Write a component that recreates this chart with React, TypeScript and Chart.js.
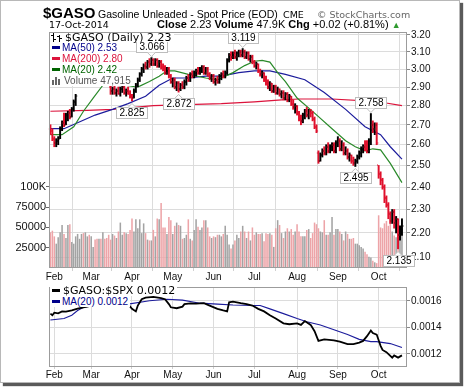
import React, { useEffect, useRef } from "react";
import { Chart, registerables } from "chart.js";
Chart.register(...registerables);

// ---------- DATA ----------
const months = ["Feb", "Mar", "Apr", "May", "Jun", "Jul", "Aug", "Sep", "Oct"];
const monthStart = [2, 21, 42, 63, 84, 105, 127, 148, 169];

const opens = [
  2.68,2.67,2.63,2.61,2.62,2.64,2.68,2.71,2.70,2.75,
  2.76,2.74,2.78,2.82,2.94,2.95,2.98,3.00,2.98,3.02,
  3.04,3.02,3.03,3.05,3.03,3.01,3.02,2.98,3.00,2.96,
  2.95,2.90,2.88,2.89,2.87,2.88,2.86,2.89,2.90,2.87,
  2.88,2.86,2.85,2.84,2.88,2.91,2.94,2.97,3.00,3.02,
  3.01,3.04,3.03,3.05,3.03,3.05,3.02,3.04,3.01,3.00,
  2.98,3.00,2.96,2.93,2.94,2.90,2.92,2.89,2.91,2.90,
  2.93,2.95,2.94,2.97,2.96,2.98,2.99,2.98,3.00,3.01,
  2.98,3.00,2.97,2.95,2.96,2.93,2.94,2.93,2.96,2.97,
  2.96,2.98,3.05,3.08,3.07,3.09,3.07,3.09,3.10,3.08,
  3.10,3.07,3.09,3.06,3.07,3.04,3.02,3.03,2.99,2.97,
  2.98,2.94,2.92,2.90,2.92,2.88,2.90,2.87,2.89,2.86,
  2.87,2.84,2.86,2.83,2.85,2.81,2.79,2.80,2.76,2.73,
  2.72,2.75,2.77,2.75,2.77,2.76,2.73,2.69,2.56,2.52,
  2.55,2.57,2.56,2.59,2.57,2.59,2.60,2.57,2.61,2.62,
  2.58,2.60,2.56,2.57,2.54,2.55,2.52,2.51,2.52,2.54,
  2.56,2.58,2.59,2.58,2.57,2.62,2.70,2.68,2.70,2.50,
  2.46,2.43,2.40,2.35,2.32,2.28,2.25,2.29,2.24,2.26,
  2.19,2.21,
];
const highs = [
  2.70,2.68,2.64,2.63,2.64,2.69,2.72,2.76,2.76,2.77,
  2.78,2.79,2.83,2.86,2.97,2.99,3.01,3.02,3.03,3.05,
  3.06,3.04,3.07,3.08,3.05,3.04,3.03,3.01,3.01,2.98,
  2.97,2.91,2.90,2.91,2.89,2.90,2.90,2.91,2.91,2.89,
  2.90,2.88,2.86,2.89,2.92,2.95,2.98,3.01,3.03,3.04,
  3.05,3.06,3.066,3.06,3.06,3.06,3.05,3.05,3.03,3.02,
  3.01,3.01,2.97,2.95,2.95,2.93,2.93,2.92,2.93,2.94,
  2.96,2.97,2.98,2.99,2.99,3.00,3.01,3.01,3.02,3.02,
  3.01,3.01,2.98,2.97,2.97,2.95,2.96,2.97,2.98,2.99,
  2.99,3.06,3.09,3.10,3.10,3.11,3.10,3.11,3.11,3.119,
  3.11,3.10,3.10,3.08,3.08,3.05,3.04,3.03,3.00,2.99,
  2.98,2.96,2.94,2.93,2.92,2.91,2.91,2.90,2.89,2.88,
  2.88,2.87,2.87,2.86,2.85,2.83,2.81,2.80,2.77,2.75,
  2.76,2.78,2.79,2.78,2.78,2.77,2.74,2.70,2.57,2.56,
  2.58,2.59,2.60,2.61,2.60,2.61,2.61,2.62,2.64,2.63,
  2.62,2.61,2.59,2.58,2.56,2.55,2.54,2.53,2.55,2.57,
  2.59,2.60,2.62,2.62,2.63,2.758,2.72,2.71,2.71,2.50,
  2.47,2.44,2.41,2.36,2.33,2.29,2.30,2.30,2.27,2.26,
  2.23,2.26,
];
const lows = [
  2.65,2.62,2.59,2.59,2.60,2.63,2.67,2.69,2.70,2.72,
  2.73,2.74,2.77,2.80,2.93,2.94,2.96,2.97,2.97,3.00,
  3.01,2.99,3.01,3.02,3.00,2.99,2.97,2.96,2.95,2.94,
  2.93,2.86,2.86,2.86,2.85,2.86,2.85,2.87,2.86,2.85,
  2.86,2.84,2.825,2.84,2.87,2.90,2.93,2.96,2.98,3.00,
  3.00,3.01,3.02,3.02,3.02,3.01,3.01,3.00,2.99,2.97,
  2.97,2.95,2.92,2.90,2.89,2.88,2.872,2.88,2.89,2.89,
  2.91,2.93,2.93,2.95,2.95,2.96,2.97,2.97,2.98,2.97,
  2.97,2.96,2.94,2.93,2.92,2.91,2.92,2.92,2.94,2.95,
  2.95,2.97,3.04,3.05,3.06,3.06,3.05,3.07,3.07,3.07,
  3.06,3.06,3.05,3.04,3.03,3.01,3.00,2.98,2.96,2.95,
  2.93,2.91,2.89,2.88,2.87,2.87,2.86,2.86,2.85,2.84,
  2.83,2.83,2.82,2.82,2.80,2.78,2.76,2.75,2.72,2.70,
  2.71,2.73,2.74,2.73,2.74,2.72,2.68,2.66,2.51,2.52,
  2.54,2.55,2.55,2.56,2.56,2.57,2.56,2.56,2.59,2.57,
  2.57,2.55,2.55,2.53,2.52,2.51,2.50,2.495,2.51,2.53,
  2.54,2.56,2.57,2.56,2.56,2.60,2.66,2.65,2.60,2.44,
  2.41,2.39,2.33,2.31,2.26,2.24,2.24,2.22,2.20,2.135,
  2.17,2.19,
];
const closes = [
  2.67,2.63,2.61,2.62,2.63,2.68,2.71,2.70,2.75,2.76,
  2.74,2.78,2.82,2.85,2.95,2.98,3.00,2.98,3.02,3.04,
  3.02,3.03,3.05,3.03,3.01,3.02,2.98,3.00,2.96,2.95,
  2.94,2.88,2.89,2.87,2.88,2.86,2.89,2.90,2.87,2.88,
  2.86,2.85,2.84,2.88,2.91,2.94,2.97,3.00,3.02,3.01,
  3.04,3.03,3.05,3.03,3.05,3.02,3.04,3.01,3.00,2.98,
  3.00,2.96,2.93,2.94,2.90,2.92,2.89,2.91,2.90,2.93,
  2.95,2.94,2.97,2.96,2.98,2.99,2.98,3.00,3.01,2.98,
  3.00,2.97,2.95,2.96,2.93,2.94,2.93,2.96,2.97,2.96,
  2.98,3.05,3.08,3.07,3.09,3.07,3.09,3.10,3.08,3.10,
  3.07,3.09,3.06,3.07,3.04,3.02,3.03,2.99,2.97,2.98,
  2.94,2.92,2.90,2.92,2.88,2.90,2.87,2.89,2.86,2.87,
  2.84,2.86,2.83,2.85,2.81,2.79,2.80,2.76,2.73,2.72,
  2.75,2.77,2.75,2.77,2.76,2.73,2.69,2.67,2.52,2.55,
  2.57,2.56,2.59,2.57,2.59,2.60,2.57,2.61,2.62,2.58,
  2.60,2.56,2.57,2.54,2.55,2.52,2.51,2.52,2.54,2.56,
  2.58,2.59,2.58,2.57,2.62,2.70,2.68,2.70,2.61,2.46,
  2.43,2.40,2.35,2.32,2.28,2.25,2.29,2.24,2.26,2.19,
  2.21,2.23,
];
const volumes = [
  44000,46000,39000,30000,38000,44000,53000,42000,37000,53000,
  54000,32000,30000,39000,42000,36000,42000,43000,44000,39000,
  41000,39000,26000,35000,36000,36000,36000,44000,36000,37000,
  41000,35000,42000,40000,37000,45000,56000,41000,44000,43000,
  42000,47000,61000,45000,60000,49000,60000,43000,55000,43000,
  35000,34000,34000,47000,39000,61000,60000,80000,50000,50000,
  42000,63000,59000,42000,52000,56000,53000,52000,36000,37000,
  41000,60000,36000,34000,47000,60000,51000,47000,50000,59000,
  59000,50000,39000,37000,39000,38000,41000,41000,39000,42000,
  52000,41000,29000,24000,29000,34000,41000,37000,45000,52000,
  45000,37000,45000,34000,50000,41000,44000,42000,42000,43000,
  33000,43000,42000,43000,41000,26000,49000,59000,53000,43000,
  37000,45000,49000,45000,48000,41000,45000,54000,45000,39000,
  39000,39000,47000,48000,37000,43000,56000,54000,49000,45000,
  44000,59000,41000,41000,44000,63000,41000,48000,48000,45000,
  42000,34000,45000,42000,36000,36000,37000,30000,30000,28000,
  26000,24000,20000,17000,14000,13000,9000,7000,6000,65000,
  50000,49000,55000,58000,52000,62000,45000,40000,38000,55000,
  42000,47915,
];

const ma50Idx = [0,7,14,23,32,40,49,56,63,71,80,88,97,105,113,121,131,141,152,162,170,175,181];
const ma50Val = [2.68,2.68,2.71,2.75,2.78,2.81,2.85,2.91,2.95,2.95,2.96,2.96,2.98,2.99,2.99,2.97,2.94,2.87,2.78,2.69,2.65,2.59,2.53];
const ma200Idx = [0,19,32,53,88,105,119,128,145,162,172,181];
const ma200Val = [2.77,2.775,2.78,2.80,2.81,2.82,2.83,2.835,2.835,2.825,2.815,2.80];
const ma20Idx = [0,6,12,17,22,27,33,39,44,46,51,56,60,64,71,80,86,94,100,105,109,113,117,121,127,136,145,152,157,162,166,170,175,181];
const ma20Val = [2.65,2.65,2.69,2.77,2.84,2.91,2.93,2.91,2.90,2.905,2.93,2.96,2.99,2.99,2.97,2.95,2.94,2.98,3.02,3.045,3.05,3.04,2.98,2.93,2.84,2.76,2.68,2.62,2.59,2.57,2.58,2.575,2.51,2.42];

const ratioIdx = [0,1,2,4,6,8,11,14,20,26,32,37,40,42,44,45,47,49,53,57,59,61,62,65,68,69,72,75,79,82,86,89,91,92,94,98,101,104,107,110,113,116,120,123,127,129,131,134,136,138,141,146,149,153,156,159,161,163,165,166,168,170,171,173,176,177,179,181];
const ratioVal = [0.001503,0.001491,0.00151,0.001505,0.00152,0.001518,0.001527,0.00154,0.00156,0.00157,0.00158,0.00158,0.001575,0.001539,0.00152,0.001564,0.001612,0.001624,0.00163,0.00162,0.001612,0.001575,0.001551,0.001544,0.001556,0.001575,0.00158,0.001578,0.001582,0.001564,0.001539,0.001527,0.00152,0.001588,0.001593,0.001582,0.001575,0.001564,0.001539,0.00152,0.001491,0.001466,0.00143,0.001423,0.00143,0.001418,0.001447,0.001418,0.00137,0.001297,0.001309,0.001302,0.001292,0.001273,0.001273,0.001284,0.001297,0.001333,0.001375,0.001357,0.001345,0.00126,0.001229,0.001212,0.001171,0.001188,0.001171,0.001188];
const ratioMaIdx = [0,7,11,14,17,25,33,40,51,60,68,77,86,94,104,108,113,120,127,132,139,146,153,159,165,168,175,181];
const ratioMaVal = [0.001455,0.001466,0.001491,0.001527,0.001551,0.00157,0.001575,0.001575,0.0016,0.001612,0.001605,0.001582,0.001575,0.001568,0.001564,0.001564,0.001539,0.001503,0.001466,0.001442,0.001418,0.001382,0.001345,0.001309,0.001292,0.001292,0.001277,0.001248];

const priceTicks = [2.1,2.2,2.3,2.4,2.5,2.6,2.7,2.8,2.9,3.0,3.1,3.2];
const volTicks = [25000, 50000, 75000, 100000];
const ratioTicks = [0.0012, 0.0014, 0.0016];
const highMarks = [52, 99, 165];
const lowMarks = [42, 66, 157, 179];

// ---------- STYLE ----------
const ARIAL = '"Liberation Sans", Arial, sans-serif';
const DEJAVU = '"DejaVu Sans", Verdana, sans-serif';
const UP = "#000000";
const DOWN = "#e0102c";
const GRID = "#dcdcdc";
const X_MIN = -0.73;
const X_MAX = 183.6;

const isUp = (i: number) => (i === 0 ? closes[0] >= opens[0] : closes[i] >= closes[i - 1]);
const barColors = closes.map((_, i) => (isUp(i) ? UP : DOWN));
const volColors = closes.map((_, i) => (isUp(i) ? "#a3a3a3" : "#eda4a8"));
const pts = (idx: number[], val: number[]) => idx.map((x, k) => ({ x, y: val[k] }));

const framePlugin = {
  id: "frame",
  afterDraw(chart: any) {
    const { ctx, chartArea: a } = chart;
    ctx.save();
    ctx.strokeStyle = "#9c9c9c";
    ctx.lineWidth = 1;
    ctx.strokeRect(Math.round(a.left) + 0.5, Math.round(a.top) + 0.5, Math.round(a.right - a.left) - 1, Math.round(a.bottom - a.top) - 1);
    ctx.restore();
  },
};

const ohlcTicks = {
  id: "ohlcTicks",
  afterDatasetsDraw(chart: any) {
    const xs = chart.scales.x, ys = chart.scales.y, ctx = chart.ctx;
    ctx.save();
    for (let i = 0; i < closes.length; i++) {
      const px = xs.getPixelForValue(i);
      ctx.fillStyle = barColors[i];
      ctx.fillRect(px - 1.6, Math.round(ys.getPixelForValue(opens[i])) - 0.5, 1, 1);
      ctx.fillRect(px + 0.6, Math.round(ys.getPixelForValue(closes[i])) - 0.5, 1, 1);
    }
    ctx.restore();
  },
};

const markPlugin = {
  id: "marks",
  afterDraw(chart: any) {
    const xs = chart.scales.x, ys = chart.scales.y, ctx = chart.ctx;
    const draw = (i: number, val: number, above: boolean) => {
      const px = xs.getPixelForValue(i);
      const py = ys.getPixelForValue(val);
      const text = val.toFixed(3);
      ctx.font = `10px ${ARIAL}`;
      const w = Math.round(ctx.measureText(text).width) + 6;
      const h = 11;
      const bx = Math.round(px - w / 2) + 0.5;
      const by = above ? Math.round(py - 6 - h) + 0.5 : Math.round(py + 6) + 0.5;
      ctx.save();
      ctx.lineWidth = 1;
      ctx.strokeStyle = "#bdbdbd";
      ctx.fillStyle = "#ffffff";
      ctx.fillRect(bx, by, w, h);
      ctx.strokeRect(bx, by, w, h);
      ctx.beginPath();
      if (above) {
        ctx.moveTo(px - 4, by + h);
        ctx.lineTo(px, by + h + 4);
        ctx.lineTo(px + 4, by + h);
      } else {
        ctx.moveTo(px - 4, by);
        ctx.lineTo(px, by - 4);
        ctx.lineTo(px + 4, by);
      }
      ctx.fill();
      ctx.stroke();
      ctx.fillStyle = "#000";
      ctx.textAlign = "center";
      ctx.textBaseline = "middle";
      ctx.fillText(text, bx + w / 2, by + h / 2 + 0.5);
      ctx.restore();
    };
    highMarks.forEach((i) => draw(i, highs[i], true));
    lowMarks.forEach((i) => draw(i, lows[i], false));
  },
};

const xScale = (height: number, tickLen: number) => ({
  type: "linear",
  min: X_MIN,
  max: X_MAX,
  offset: false,
  bounds: "data",
  afterBuildTicks(s: any) {
    s.ticks = monthStart.map((v) => ({ value: v }));
  },
  afterFit(s: any) {
    s.height = height;
  },
  grid: { color: GRID, tickLength: tickLen, tickColor: "#d0d0d0" },
  border: { display: false },
  ticks: {
    autoSkip: false,
    maxRotation: 0,
    padding: 0,
    color: "#111",
    font: { family: ARIAL, size: 10 },
    callback: (_v: any, i: number) => months[i],
  },
});

export default function App() {
  const mainRef = useRef<HTMLCanvasElement>(null);
  const lowRef = useRef<HTMLCanvasElement>(null);

  useEffect(() => {
    document.body.style.margin = "0";
    const main = new Chart(mainRef.current as HTMLCanvasElement, {
      type: "bar",
      data: {
        datasets: [
          {
            type: "line",
            data: pts(ma20Idx, ma20Val),
            yAxisID: "y",
            borderColor: "#2a8a2a",
            borderWidth: 1.2,
            pointRadius: 0,
            order: 2,
          },
          {
            type: "line",
            data: pts(ma50Idx, ma50Val),
            yAxisID: "y",
            borderColor: "#1c1c9c",
            borderWidth: 1.2,
            pointRadius: 0,
            order: 3,
          },
          {
            type: "line",
            data: pts(ma200Idx, ma200Val),
            yAxisID: "y",
            borderColor: "#dc143c",
            borderWidth: 1.2,
            pointRadius: 0,
            order: 4,
          },
          {
            type: "bar",
            data: highs.map((h, i) => ({ x: i, y: [lows[i], h] })),
            yAxisID: "y",
            backgroundColor: barColors,
            barThickness: 1.3,
            grouped: false,
            order: 1,
          },
          {
            type: "bar",
            data: volumes.map((v, i) => ({ x: i, y: v })),
            yAxisID: "yVol",
            backgroundColor: volColors,
            barPercentage: 0.9,
            categoryPercentage: 0.88,
            grouped: false,
            order: 10,
          },
        ] as any,
      },
      options: {
        responsive: false,
        animation: false,
        events: [],
        layout: { padding: { top: 32, left: 0, right: 0, bottom: 0 } },
        plugins: { legend: { display: false }, tooltip: { enabled: false } },
        scales: {
          x: xScale(19, 3) as any,
          y: {
            type: "logarithmic",
            position: "right",
            min: 2.0589,
            max: 3.2182,
            bounds: "data",
            afterBuildTicks(s: any) {
              s.ticks = priceTicks.map((v) => ({ value: v }));
            },
            afterFit(s: any) {
              s.width = 57;
            },
            grid: { color: GRID, tickLength: 3, tickColor: "#888" },
            border: { display: false },
            ticks: {
              autoSkip: false,
              padding: 1,
              color: "#111",
              font: { family: ARIAL, size: 10 },
              callback: (v: any) => Number(v).toFixed(2),
            },
          } as any,
          yVol: {
            type: "linear",
            position: "left",
            min: 0,
            max: 291000,
            bounds: "data",
            afterBuildTicks(s: any) {
              s.ticks = volTicks.map((v) => ({ value: v }));
            },
            afterFit(s: any) {
              s.width = 49;
            },
            grid: { drawOnChartArea: false, tickLength: 3, tickColor: "#666" },
            border: { display: false },
            ticks: {
              autoSkip: false,
              padding: 0,
              color: "#111",
              font: { family: ARIAL, size: 11 },
              callback: (v: any) => (Number(v) >= 100000 ? Number(v) / 1000 + "K" : String(v)),
            },
          } as any,
        },
      },
      plugins: [ohlcTicks, framePlugin, markPlugin],
    });

    const lower = new Chart(lowRef.current as HTMLCanvasElement, {
      type: "line",
      data: {
        datasets: [
          {
            data: pts(ratioIdx, ratioVal),
            borderColor: "#000000",
            borderWidth: 1.8,
            pointRadius: 0,
            order: 1,
          },
          {
            data: pts(ratioMaIdx, ratioMaVal),
            borderColor: "#1c1c9c",
            borderWidth: 1.1,
            pointRadius: 0,
            order: 2,
          },
        ],
      },
      options: {
        responsive: false,
        animation: false,
        events: [],
        layout: { padding: { top: 4, left: 49, right: 0, bottom: 0 } },
        plugins: { legend: { display: false }, tooltip: { enabled: false } },
        scales: {
          x: xScale(13, 2) as any,
          y: {
            type: "linear",
            position: "right",
            min: 0.0011004,
            max: 0.001704,
            bounds: "data",
            afterBuildTicks(s: any) {
              s.ticks = ratioTicks.map((v) => ({ value: v }));
            },
            afterFit(s: any) {
              s.width = 57;
            },
            grid: { color: GRID, tickLength: 3, tickColor: "#888" },
            border: { display: false },
            ticks: {
              autoSkip: false,
              padding: 1,
              color: "#111",
              font: { family: ARIAL, size: 10 },
              callback: (v: any) => Number(v).toFixed(4),
            },
          } as any,
        },
      },
      plugins: [framePlugin],
    });

    return () => {
      main.destroy();
      lower.destroy();
    };
  }, []);

  const abs = (left: number, top: number, extra: any = {}) => ({
    position: "absolute" as const,
    left,
    top,
    whiteSpace: "nowrap" as const,
    ...extra,
  });
  const lineBox = (left: number, top: number, h: number) =>
    abs(left, top, { height: h, lineHeight: h + "px", background: "#fff", display: "flex", alignItems: "center", paddingRight: 2 });
  const dash = (color: string, w = 8, h = 3) => (
    <span style={{ display: "inline-block", width: w, height: h, background: color, marginLeft: 2, marginRight: 2 }} />
  );

  return (
    <div style={{ position: "relative", width: 464, height: 387, background: "#fff", overflow: "hidden" }}>
      <div
        style={{
          position: "absolute",
          left: 0,
          top: 0,
          width: 460,
          height: 383,
          boxSizing: "border-box",
          border: "1px solid #b8b8b8",
          boxShadow: "3px 3px 1px #5a5a5a",
          background: "#fff",
        }}
      />
      <canvas ref={mainRef} width={464} height={287} style={{ position: "absolute", left: 0, top: 0 }} />
      <canvas ref={lowRef} width={464} height={100} style={{ position: "absolute", left: 0, top: 280 }} />

      {/* header */}
      <div style={abs(43, 5, { font: `bold 15px/16px ${ARIAL}`, color: "#000" })}>$GASO</div>
      <div style={abs(98, 8.4, { font: `10.5px/12px ${ARIAL}`, color: "#000" })}>Gasoline Unleaded - Spot Price (EOD)</div>
      <div style={abs(283, 8.5, { font: `9.5px/12px ${DEJAVU}`, color: "#000" })}>CME</div>
      <div style={abs(317, 8.5, { font: `9.5px/12px ${DEJAVU}`, color: "#666" })}>© StockCharts.com</div>
      <div style={abs(49, 18.5, { font: `9.5px/12px ${DEJAVU}`, color: "#000" })}>17-Oct-2014</div>
      <div style={abs(157, 17.7, { font: `11px/13px ${ARIAL}`, color: "#000" })}>
        <b>Close</b> 2.23 <b>Volume</b> 47.9K <b>Chg</b> +0.02 (+0.81%) <span style={{ color: "#2f9a2f", fontSize: 9 }}>▲</span>
      </div>

      {/* main legend */}
      <div style={lineBox(50, 33, 8.5)}>
        <svg width="12" height="9" style={{ marginLeft: 1, marginRight: 2 }}>
          <rect x="2" y="0" width="1" height="9" fill="#000" />
          <rect x="0" y="2" width="2" height="1" fill="#000" />
          <rect x="3" y="6" width="2" height="1" fill="#000" />
          <rect x="8" y="2" width="1" height="7" fill="#000" />
          <rect x="6" y="3" width="2" height="1" fill="#000" />
          <rect x="9" y="5" width="2" height="1" fill="#000" />
        </svg>
        <span style={{ font: `11px ${DEJAVU}`, color: "#000" }}>$GASO (Daily) 2.23</span>
      </div>
      <div style={lineBox(50, 41.5, 11.2)}>
        {dash("#00008b")}
        <span style={{ font: `10px ${ARIAL}`, color: "#00008b" }}>MA(50) 2.53</span>
      </div>
      <div style={lineBox(50, 52.7, 11.2)}>
        {dash("#dc143c")}
        <span style={{ font: `10px ${ARIAL}`, color: "#dc143c" }}>MA(200) 2.80</span>
      </div>
      <div style={lineBox(50, 63.9, 11.2)}>
        {dash("#006400")}
        <span style={{ font: `10px ${ARIAL}`, color: "#006400" }}>MA(20) 2.42</span>
      </div>
      <div style={lineBox(50, 75.1, 11)}>
        <svg width="11" height="9" style={{ marginLeft: 2, marginRight: 1 }}>
          <rect x="0" y="4" width="2" height="5" fill="#666" />
          <rect x="3" y="1" width="2" height="8" fill="#666" />
          <rect x="6" y="3" width="2" height="6" fill="#666" />
        </svg>
        <span style={{ font: `10px ${ARIAL}`, color: "#555" }}>Volume 47,915</span>
      </div>

      {/* lower legend */}
      <div style={lineBox(50, 285.5, 10.5)}>
        {dash("#000", 8, 3)}
        <span style={{ font: `11px ${DEJAVU}`, color: "#000", marginLeft: 1 }}>$GASO:$SPX 0.0012</span>
      </div>
      <div style={lineBox(50, 296, 11)}>
        {dash("#00008b")}
        <span style={{ font: `10px ${ARIAL}`, color: "#00008b" }}>MA(20) 0.0012</span>
      </div>
    </div>
  );
}
